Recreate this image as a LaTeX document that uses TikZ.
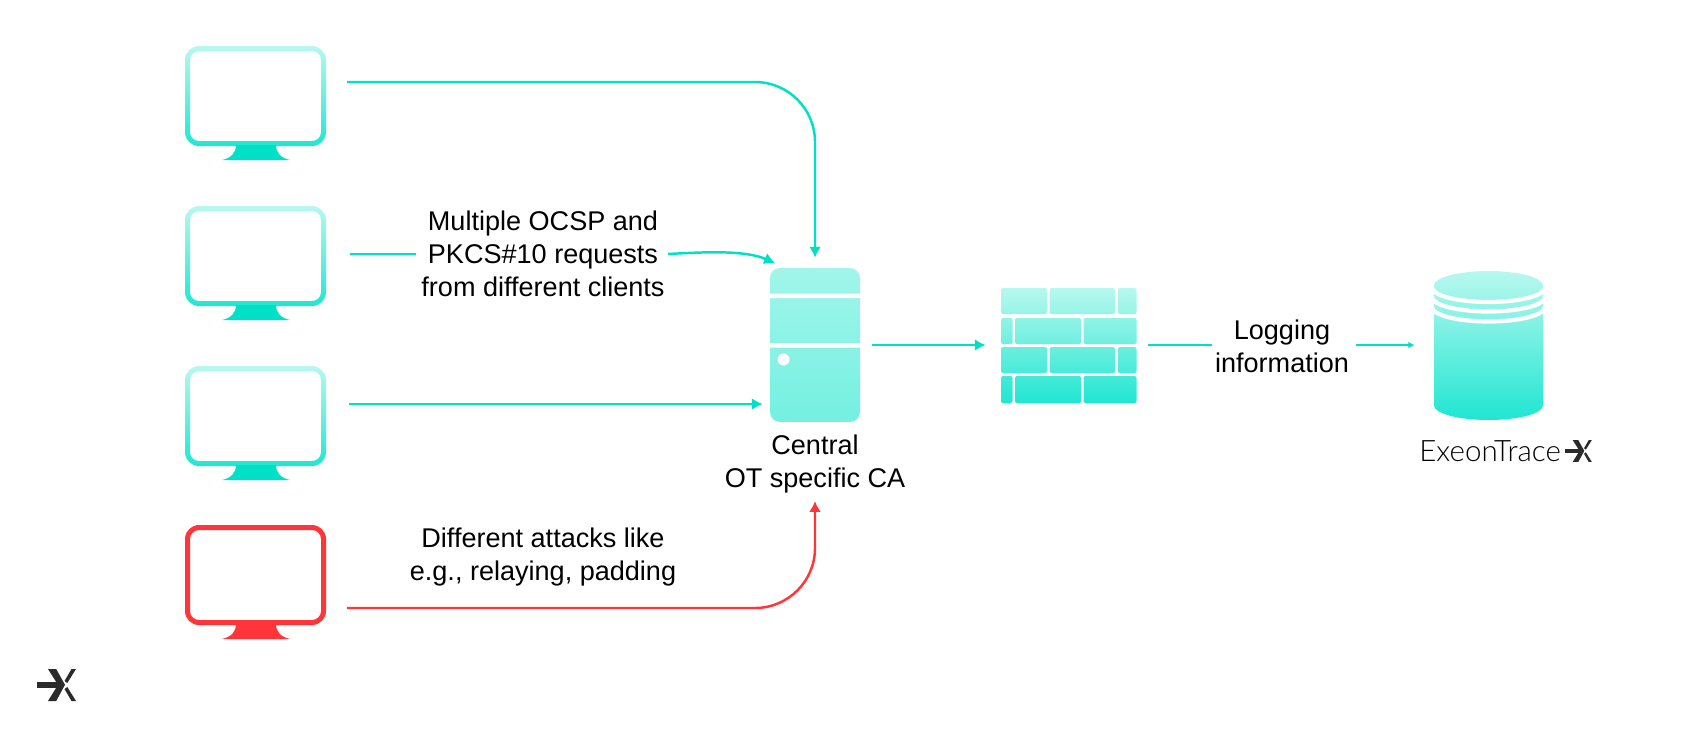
\documentclass[tikz,border=0pt]{standalone}
\usepackage{fontspec}
\setmainfont{Liberation Sans}
\newfontfamily\thinfont[UprightFont=* Light]{Lato}
\usetikzlibrary{arrows.meta, positioning, calc}
\definecolor{tealLine}{HTML}{00E0C6}
\definecolor{tealTop}{HTML}{B8F8EE}
\definecolor{tealBot}{HTML}{20E6D2}
\definecolor{redAtk}{HTML}{FF3539}
\definecolor{grisLogo}{HTML}{2B2B2B}

\begin{document}
\begin{tikzpicture}[x=0.02cm, y=-0.02cm, font=\fontsize{15.4}{18.8}\selectfont, >=Latex,
        screenbox/.style={minimum width=2.82cm, minimum height=2cm, inner sep=0pt},
        label/.style={align=center, inner sep=0pt, text=black},
        link/.style={-{Latex[length=6.2pt, width=6.8pt]}, tealLine, line width=1.4pt},
        plain/.style={tealLine, line width=1.4pt},
        thin link/.style={-{Latex[length=3.6pt, width=3.8pt]}, tealLine, line width=0.8pt},
        attack/.style={-{Latex[length=6.2pt, width=6.8pt]}, redAtk, line width=1.4pt},
        logomark/.pic={
            \fill (-19.5,-2.8) rectangle (6,3);
            \fill (-8.5,-16) -- (-0.3,-16) -- (8.5,-0.2) -- (-0.3,16) -- (-8.5,16) -- (1.5,-0.2) -- cycle;
            \fill (8,-4) -- (15,-16) -- (19.5,-16) -- (10.8,-2) -- cycle;
            \fill (8,4) -- (10.8,2) -- (19.5,16) -- (15,16) -- cycle;
        }]
        \useasboundingbox (0,0) rectangle (1700,735);
        % monitors
        \foreach \n/\t/\ca/\cb/\cs in {m1/46/tealTop/tealBot/tealLine, m2/206/tealTop/tealBot/tealLine,
                m3/366/tealTop/tealBot/tealLine, m4/525/redAtk/redAtk/redAtk} {
            \node[screenbox] (\n) at (255.5,\t+50) {};
            \shade[even odd rule, top color=\ca, bottom color=\cb, rounded corners=0.28cm]
                (185,\t) rectangle (326,\t+100) [rounded corners=0.18cm] (190,\t+5) rectangle (321,\t+95);
            \fill[\cs] (236,\t+99) .. controls (236,\t+107) and (231,\t+112) .. (222,\t+114)
                -- (290,\t+114) .. controls (281,\t+112) and (276,\t+107) .. (276,\t+99) -- cycle;
        }
        % CA server
        \node[minimum width=1.8cm, minimum height=3.08cm, inner sep=0pt, rounded corners=0.2cm,
            top color=tealTop!85!tealBot, bottom color=tealTop!55!tealBot] (ca) at (815,345) {};
        \fill[white] (769,293.5) rectangle (861,298) (769,343) rectangle (861,347.5);
        \fill[white] (783.5,359.5) circle (6);
        \node[label, below=7pt of ca] (caname) {Central\\OT specific CA};
        % firewall
        \node[minimum width=2.72cm, minimum height=2.3cm, inner sep=0pt] (fw) at (1069,345.5) {};
        \shade[top color=tealTop, bottom color=tealBot, rounded corners=0.04cm]
            (1001,288) rectangle (1047,314) (1049.5,288) rectangle (1115,314) (1118,288) rectangle (1136.5,314)
            (1001,318) rectangle (1012.5,344) (1015,318) rectangle (1081,344) (1083.5,318) rectangle (1136.5,344)
            (1001,347) rectangle (1047,373) (1049.5,347) rectangle (1115,373) (1118,347) rectangle (1136.5,373)
            (1001,376) rectangle (1012.5,403) (1015,376) rectangle (1081,403) (1083.5,376) rectangle (1136.5,403);
        % database
        \node[minimum width=2.18cm, minimum height=2.98cm, inner sep=0pt] (db) at (1488.5,345.5) {};
        \shade[top color=tealTop, bottom color=tealBot]
            (1434,285.5) arc[start angle=180, end angle=360, x radius=54.5, y radius=14.5]
            -- (1543,405.5) arc[start angle=0, end angle=-180, x radius=54.5, y radius=-14.5] -- cycle;
        \foreach \a in {287.5,297,307}
            \draw[white, line width=2.4pt] (1432,\a) arc[start angle=180, end angle=360, x radius=56.5, y radius=-14.5];
        \node[anchor=west, inner sep=0pt, font=\thinfont\fontsize{16.8}{18}\selectfont] (trace) at (1419,451) {ExeonTrace};
        \pic[grisLogo, scale=0.68] at (1578.5,451) {logomark};
        \pic[grisLogo] at (56.5,685) {logomark};
        % labels
        \node[label] (req) at (543,254) {Multiple OCSP and\\PKCS\#10 requests\\from different clients};
        \node[label] (atk) at (543,557) {Different attacks like\\e.g., relaying, padding};
        \node[label] (logi) at (1282,346) {Logging\\information};
        % start points of the connectors
        \coordinate (m1out) at (347,82);
        \coordinate (m2out) at (350,254);
        \coordinate (m3out) at (349,404);
        \coordinate (m4out) at (347,608);
        \coordinate (reqtip) at (775,263);
        % connectors
        \draw[link, rounded corners=1.2cm] (m1out) -| ([yshift=0.2cm]ca.north);
        \draw[plain] (m2out) -- ([xshift=-0.1cm]req.west |- m2out);
        \draw[link] ([xshift=0.06cm]req.east |- m2out) .. controls (705,252) and (745,250) .. (reqtip);
        \draw[link] (m3out) -- ([xshift=-0.14cm]ca.west |- m3out);
        \draw[attack, rounded corners=1.2cm] (m4out) -| ([yshift=-0.15cm]caname.south);
        \draw[link] ([xshift=0.24cm]ca.east) -- ([xshift=-0.3cm]fw.west |- ca);
        \draw[plain, line width=0.8pt] (1148,345) -- ([xshift=-0.06cm]logi.west |- ca);
        \draw[thin link] ([xshift=0.14cm]logi.east |- ca) -- ([xshift=-0.38cm]db.west |- ca);
    \end{tikzpicture}
\end{document}
